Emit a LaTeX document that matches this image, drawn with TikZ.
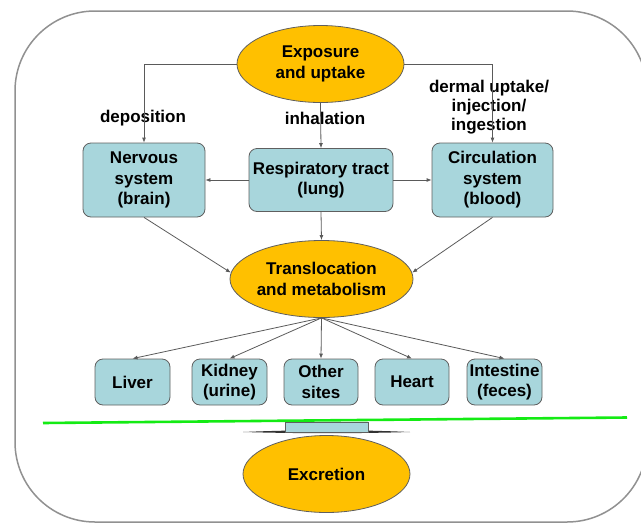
\documentclass[tikz,border=0pt]{standalone}
\usepackage{fontspec}
\setmainfont{Liberation Sans}
\usetikzlibrary{shapes.geometric,arrows.meta}
\definecolor{boxfill}{RGB}{168,214,220}
\definecolor{ellfill}{RGB}{255,192,0}
\definecolor{edge}{RGB}{95,95,95}
\definecolor{conn}{RGB}{90,90,90}
\definecolor{frame}{RGB}{145,145,145}
\definecolor{sepgreen}{RGB}{20,235,20}
\tikzset{
  txt/.style={font=\bfseries\fontsize{17}{20.5}\selectfont, align=center, text=black},
  organ/.style={txt, draw=edge, line width=0.8pt, fill=boxfill, rounded corners=8pt, inner sep=0pt},
  oval/.style={txt, ellipse, draw=edge, line width=0.8pt, fill=ellfill, minimum width=167pt, minimum height=77pt, inner sep=0pt},
  lbl/.style={txt},
  conarrow/.style={draw=conn, line width=0.8pt, -{Latex[length=5pt,width=4pt]}}
}
\begin{document}
\begin{tikzpicture}[x=1pt,y=-1pt]
\useasboundingbox (0,0) rectangle (641,523);
\begin{scope}
\clip (0,0) rectangle (641,523);
\draw[frame, line width=1.5pt, rounded corners=80pt] (15,11) rectangle (647,522);
\end{scope}

% main nodes
\node[oval] (E) at (320.5,64) {Exposure\\and uptake};
\node[organ, minimum width=122pt, minimum height=74pt] (N) at (144,180) {Nervous\\system\\(brain)};
\node[organ, minimum width=144pt, minimum height=63pt] (R) at (321,180) {Respiratory tract\\(lung)};
\node[organ, minimum width=121pt, minimum height=74pt] (C) at (492.5,180) {Circulation\\system\\(blood)};
\node[oval] (T) at (321.5,279) {Translocation\\and metabolism};

\node[organ, minimum width=75pt, minimum height=46pt] (L) at (132.5,382) {Liver};
\node[organ, minimum width=75pt, minimum height=46pt] (K) at (229.5,382) {Kidney\\(urine)};
\node[organ, minimum width=74pt, minimum height=46pt] (O) at (321,382) {Other\\sites};
\node[organ, minimum width=74pt, minimum height=46pt] (H) at (412,382) {Heart};
\node[organ, minimum width=75pt, minimum height=46pt] (I) at (504.5,382) {Intestine\\(feces)};

% route labels (lines pass through them)
\node[lbl] (ldep) at (143,118) {deposition};
\node[lbl] (linh) at (325,118) {inhalation};
\node[lbl, font=\bfseries\fontsize{17}{19}\selectfont] (lder) at (489,107) {dermal uptake/\\injection/\\ingestion};

% connectors
\draw[conarrow] (E.west) -| (N.north);
\draw[conarrow] (E.east) -| (C.north);
\draw[conarrow] (E.south) -- (R.north);
\draw[conarrow] (R.west) -- (N.east);
\draw[conarrow] (R.east) -- (C.west);
\draw[conarrow] (R.south) -- (T.north);
\draw[conarrow] (N.south) -- (T.176);
\draw[conarrow] (C.south) -- (T.4);
\draw[conarrow] (T.south) -- (L.north);
\draw[conarrow] (T.south) -- (K.north);
\draw[conarrow] (T.south) -- (O.north);
\draw[conarrow] (T.south) -- (H.north);
\draw[conarrow] (T.south) -- (I.north);

% separator
\coordinate (g1) at (43,423);
\coordinate (g2) at (627,417.5);
\draw[sepgreen, line width=2.6pt] (g1) -- (g2);

% excretion group
\node[oval] (X) at (326.5,474) {Excretion};
\fill[black!80] (243,432) .. controls (300,429.6) and (355,429.6) .. (410,432)
  .. controls (355,433.6) and (300,433.6) .. (243,432) -- cycle;
\node[draw=edge, line width=0.8pt, fill=boxfill, minimum width=83pt, minimum height=10pt, inner sep=0pt] (bar) at (326.5,427) {};
\end{tikzpicture}
\end{document}
